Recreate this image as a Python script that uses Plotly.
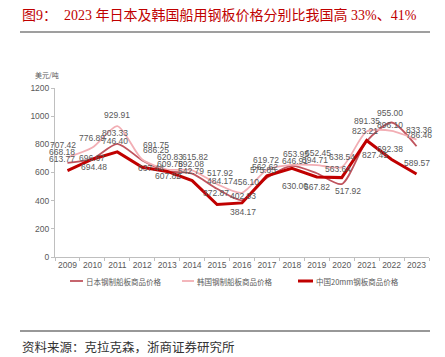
import plotly.graph_objects as go

years = ["2009", "2010", "2011", "2012", "2013", "2014", "2015", "2016",
         "2017", "2018", "2019", "2020", "2021", "2022", "2023"]
japan = [668.18, 696.67, 803.33, 686.25, 609.78, 592.08, 484.17, 402.93,
         562.62, 646.91, 594.71, 517.92, 823.21, 955.00, 786.46]
korea = [707.42, 776.89, 929.91, 691.75, 620.83, 615.82, 517.92, 456.10,
         619.72, 653.95, 652.45, 638.54, 891.35, 896.10, 833.36]
china = [613.77, 694.48, 746.40, 637.44, 607.82, 542.79, 372.87, 384.17,
         575.85, 630.00, 567.82, 563.64, 827.45, 692.38, 589.57]
y_ticks = [0, 200, 400, 600, 800, 1000, 1200]

names = ["日本钢制船板商品价格", "韩国钢制船板商品价格", "中国20mm钢板商品价格"]
title_text = "图9：  2023 年日本及韩国船用钢板价格分别比我国高 33%、41%"
source_text = "资料来源：克拉克森，浙商证券研究所"
unit_text = "美元/吨"

# label offsets in screen pixels (dx right, dy down)
off_korea = [(-4, -12), (0, -10), (0, -11), (14, -15), (3, -13), (3, -13), (3, -11), (4, -11),
             (-1, -10), (4, -11), (1, -12), (0, -10), (0, -10), (-2, -6), (2, -10)]
off_japan = [(-5, -11), (0, -1), (-2, -11), (14, -10), (3, -7), (-1, -10), (3, -8), (1, -4),
             (-2, -11), (3, -5), (-2, -13), (6, 7), (-2, -10), (-2, -10), (2, -11)]
off_china = [(-5, -12), (2, 8), (-2, -11), (9, 1), (1, 5), (-1, -10), (-1, -11), (1, 9),
             (-4, -6), (3, 18), (0, 10), (-4, -9), (8, 15), (-2, -10), (0, -11)]

C_JP = "#C0545E"
C_KR = "#F2AEB4"
C_CN = "#C00000"
# page has an 8px body margin: the figure is shrunk and every coordinate is
# expressed in window pixels of the reference
OFF = 8
W, H = 445 - OFF, 357 - OFF
L, R, T = 55 - OFF, 16, 88 - OFF
PW, PH = 374, 169
B = H - T - PH


def px(x):
    return (x - 55) / PW


def py(y):
    return (257 - y) / PH


fig = go.Figure()
fig.add_trace(go.Scatter(x=years, y=japan, mode="lines", name=names[0],
                         line=dict(color=C_JP, width=1.8, shape="spline", smoothing=0.7)))
fig.add_trace(go.Scatter(x=years, y=korea, mode="lines", name=names[1],
                         line=dict(color=C_KR, width=1.8, shape="spline", smoothing=0.7)))
fig.add_trace(go.Scatter(x=years, y=china, mode="lines", name=names[2],
                         line=dict(color=C_CN, width=3)))

lab_font = dict(family="Liberation Sans Narrow, Arial Narrow, Liberation Sans, sans-serif",
                size=8.5, color="#595959")
ann = []
for series, offs in ((korea, off_korea), (japan, off_japan), (china, off_china)):
    for i, (v, (dx, dy)) in enumerate(zip(series, offs)):
        ann.append(dict(x=i, y=v, xref="x", yref="y", text=f"{v:.2f}", showarrow=False,
                        xshift=dx, yshift=-dy, font=lab_font, xanchor="center", yanchor="middle"))

# title, unit, source
ann.append(dict(x=px(20), y=py(15), xref="paper", yref="paper", text=title_text,
                showarrow=False, xanchor="left", yanchor="middle",
                font=dict(family="Liberation Serif, Noto Sans CJK SC", size=14, color="#C00000")))
ann.append(dict(x=px(33), y=py(75), xref="paper", yref="paper", text=unit_text,
                showarrow=False, xanchor="left", yanchor="middle",
                font=dict(family="Noto Sans CJK SC", size=7, color="#595959")))
ann.append(dict(x=px(20), y=py(346), xref="paper", yref="paper", text=source_text,
                showarrow=False, xanchor="left", yanchor="middle",
                font=dict(family="Noto Sans CJK SC", size=12.5, color="#333333")))

# manual legend
leg = [(70, 83, C_JP, 1.8), (182, 194, C_KR, 1.8), (298, 313, C_CN, 3)]
shapes = []
for (x0, x1, c, w), nm in zip(leg, names):
    shapes.append(dict(type="line", xref="paper", yref="paper", x0=px(x0), x1=px(x1),
                       y0=py(281), y1=py(281), line=dict(color=c, width=w)))
    ann.append(dict(x=px(x1 + 1), y=py(281), xref="paper", yref="paper", text=nm,
                    showarrow=False, xanchor="left", yanchor="middle",
                    font=dict(family="Noto Sans CJK SC", size=7.5, color="#595959")))

shapes.append(dict(type="line", xref="paper", yref="paper", x0=px(20), x1=px(430),
                   y0=py(32), y1=py(32), line=dict(color="#7F7F7F", width=1.3)))
shapes.append(dict(type="line", xref="paper", yref="paper", x0=px(20), x1=px(430),
                   y0=py(331), y1=py(331), line=dict(color="#333333", width=1.2)))

tick_font = dict(family="Liberation Sans Narrow, Arial Narrow, Liberation Sans, sans-serif",
                 size=8.5, color="#595959")
fig.update_layout(
    width=W, height=H, margin=dict(l=L, r=R, t=T, b=B, pad=0),
    paper_bgcolor="white", plot_bgcolor="white", showlegend=False,
    annotations=ann, shapes=shapes,
    xaxis=dict(type="category", range=[-0.5, 14.5], tickson="boundaries", tickangle=0,
               showline=True, linecolor="#BFBFBF", linewidth=1,
               ticks="outside", ticklen=3, tickcolor="#BFBFBF",
               showgrid=False, zeroline=False, tickfont=tick_font),
    yaxis=dict(range=[0, 1200], tickvals=y_ticks, showline=True, linecolor="#BFBFBF",
               linewidth=1, ticks="outside", ticklen=3, tickcolor="#BFBFBF",
               showgrid=False, zeroline=False, tickfont=tick_font),
)
fig.write_html("out.html")
